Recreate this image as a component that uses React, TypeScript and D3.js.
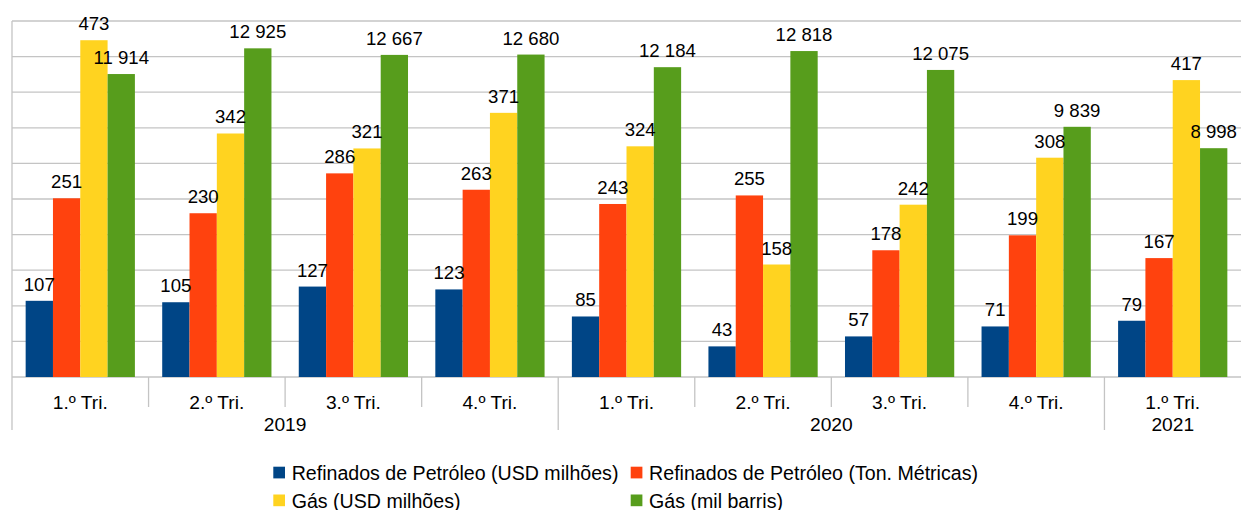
import React from "react";
import * as d3 from "d3";

// Quarterly export figures, 2019 – 1st quarter 2021
const quarters = ["1.º Tri.", "2.º Tri.", "3.º Tri.", "4.º Tri.", "1.º Tri.", "2.º Tri.", "3.º Tri.", "4.º Tri.", "1.º Tri."];
const years = [
  { label: "2019", from: 0, to: 4 },
  { label: "2020", from: 4, to: 8 },
  { label: "2021", from: 8, to: 9 },
];

const seriesNames = [
  "Refinados de Petróleo (USD milhões)",
  "Refinados de Petróleo (Ton. Métricas)",
  "Gás (USD milhões)",
  "Gás (mil barris)",
];
const seriesColors = ["#004586", "#ff420e", "#ffd320", "#579d1c"];

const refinadosUsd = [107, 105, 127, 123, 85, 43, 57, 71, 79];
const refinadosTon = [251, 230, 286, 263, 243, 255, 178, 199, 167];
const gasUsd = [473, 342, 321, 371, 324, 158, 242, 308, 417];
const gasBarris = [11914, 12925, 12667, 12680, 12184, 12818, 12075, 9839, 8998];

// primary axis (first three series) and secondary axis (gas in thousand barrels)
const primaryMax = 500;
const secondaryMax = 14000;
const gridStep = 50;

const W = 1241;
const H = 510;
const plotLeft = 12;
const plotRight = 1241;
const plotTop = 21;
const plotBottom = 377;

const FONT = "'Liberation Sans', Arial, sans-serif";

const fmt = d3.formatLocale({ decimal: ",", thousands: " ", grouping: [3], currency: ["", ""] }).format(",d");

export default function App() {
  const x = d3
    .scaleBand<number>()
    .domain(d3.range(quarters.length))
    .range([plotLeft, plotRight])
    .paddingInner(0.2)
    .paddingOuter(0.1);
  const step = x.step();
  const sub = d3.scaleBand<number>().domain([0, 1, 2, 3]).range([0, x.bandwidth()]);

  const yPrimary = d3.scaleLinear().domain([0, primaryMax]).range([plotBottom, plotTop]);
  const ySecondary = d3.scaleLinear().domain([0, secondaryMax]).range([plotBottom, plotTop]);

  const series = [
    { values: refinadosUsd, y: yPrimary },
    { values: refinadosTon, y: yPrimary },
    { values: gasUsd, y: yPrimary },
    { values: gasBarris, y: ySecondary },
  ];

  const gridValues = d3.range(0, primaryMax + gridStep, gridStep);
  const catEdge = (i: number) => plotLeft + i * step;
  const yearEdges = new Set([0, ...years.map((yr) => yr.to)]);

  const legendRows = [
    [0, 1],
    [2, 3],
  ];
  const legendColX = [273.3, 630.7];
  const legendRowY = [466.7, 494.5];

  return (
    <>
      <style>{`body{margin:0}`}</style>
      <svg width={W} height={H} style={{ display: "block", fontFamily: FONT }}>
        <rect width={W} height={H} fill="#ffffff" />
        {/* horizontal grid */}
        {gridValues.map((v) => (
          <line
            key={`g${v}`}
            x1={plotLeft}
            x2={plotRight}
            y1={yPrimary(v)}
            y2={yPrimary(v)}
            stroke="#c4c4c4"
            strokeWidth={1.3}
          />
        ))}
        {/* left axis line */}
        <line x1={plotLeft} x2={plotLeft} y1={plotTop} y2={430} stroke="#c4c4c4" strokeWidth={1.3} />
        {/* category dividers */}
        {d3.range(1, quarters.length).map((i) => (
          <line
            key={`d${i}`}
            x1={catEdge(i)}
            x2={catEdge(i)}
            y1={plotBottom}
            y2={yearEdges.has(i) ? 430 : 407}
            stroke="#c4c4c4"
            strokeWidth={1.3}
          />
        ))}
        {/* bars */}
        {series.map((s, si) =>
          s.values.map((v, i) => {
            const bx = (x(i) ?? 0) + (sub(si) ?? 0);
            const by = s.y(v);
            return (
              <rect
                key={`b${si}-${i}`}
                x={bx}
                y={by}
                width={sub.bandwidth()}
                height={plotBottom - by}
                fill={seriesColors[si]}
              />
            );
          })
        )}
        {/* value labels */}
        {series.map((s, si) =>
          s.values.map((v, i) => (
            <text
              key={`l${si}-${i}`}
              x={(x(i) ?? 0) + (sub(si) ?? 0) + sub.bandwidth() / 2}
              y={s.y(v) - 10}
              textAnchor="middle"
              fontSize={18.6}
              fill="#000"
            >
              {fmt(v)}
            </text>
          ))
        )}
        {/* quarter labels */}
        {quarters.map((q, i) => (
          <text
            key={`q${i}`}
            x={catEdge(i) + step / 2}
            y={409}
            textAnchor="middle"
            fontSize={19.2}
            fill="#000"
          >
            {q}
          </text>
        ))}
        {/* year labels */}
        {years.map((yr) => (
          <text
            key={yr.label}
            x={(catEdge(yr.from) + catEdge(yr.to)) / 2}
            y={431}
            textAnchor="middle"
            fontSize={19.2}
            fill="#000"
          >
            {yr.label}
          </text>
        ))}
        {/* legend */}
        {legendRows.map((row, ri) =>
          row.map((si, ci) => (
            <g key={`lg${si}`} transform={`translate(${legendColX[ci]},${legendRowY[ri]})`}>
              <rect width={11.7} height={11.7} fill={seriesColors[si]} />
              <text x={18.4} y={13.3} fontSize={19.6} fill="#000">
                {seriesNames[si]}
              </text>
            </g>
          ))
        )}
      </svg>
    </>
  );
}
